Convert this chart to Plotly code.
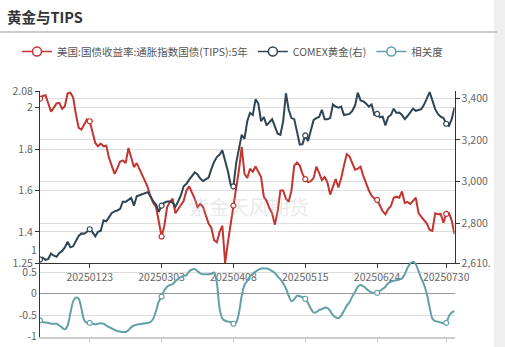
import pandas as pd
import plotly.graph_objects as go

# ---------------- data ----------------
holidays = ['2024-12-25', '2025-01-01', '2025-01-20', '2025-02-17', '2025-04-18',
            '2025-05-26', '2025-06-19', '2025-07-04']
tick_labels = ['20250123', '20250303', '20250408', '20250515', '20250624', '20250730']
mark_dates = ['20241226'] + tick_labels

tips = [2.043, 2.056, 2.06, 2.015, 1.98, 2.0, 2.02, 2.023, 1.994, 2.007,
        2.069, 2.072, 2.048, 1.967, 1.902, 1.894, 1.918, 1.943, 1.934, 1.878,
        1.829, 1.813, 1.826, 1.813, 1.816, 1.756, 1.716, 1.68, 1.708, 1.74,
        1.745, 1.732, 1.805, 1.756, 1.713, 1.732, 1.70, 1.67, 1.645, 1.615,
        1.57, 1.54, 1.52, 1.45, 1.378, 1.43, 1.52, 1.545, 1.56, 1.49,
        1.51, 1.53, 1.55, 1.60, 1.62, 1.59, 1.56, 1.52, 1.535, 1.52,
        1.48, 1.44, 1.42, 1.36, 1.35, 1.40, 1.43, 1.25, 1.35, 1.44,
        1.527, 1.60, 1.70, 1.81, 1.68, 1.66, 1.705, 1.69, 1.716, 1.69,
        1.665, 1.57, 1.55, 1.515, 1.49, 1.435, 1.50, 1.60, 1.60, 1.56,
        1.545, 1.60, 1.72, 1.735, 1.72, 1.68, 1.655, 1.64, 1.645, 1.66,
        1.715, 1.685, 1.65, 1.665, 1.64, 1.58, 1.62, 1.655, 1.615, 1.66,
        1.72, 1.775, 1.765, 1.735, 1.70, 1.705, 1.715, 1.67, 1.635, 1.60,
        1.575, 1.56, 1.555, 1.53, 1.50, 1.485, 1.51, 1.525, 1.565, 1.57,
        1.565, 1.595, 1.54, 1.545, 1.535, 1.55, 1.565, 1.49, 1.475, 1.46,
        1.44, 1.41, 1.405, 1.49, 1.485, 1.487, 1.445, 1.487, 1.49, 1.455,
        1.39]

gold = [2627, 2635, 2625, 2630, 2655, 2645, 2640, 2658, 2668, 2685,
        2712, 2685, 2690, 2715, 2740, 2752, 2750, 2760, 2772, 2758,
        2738, 2760, 2765, 2815, 2810, 2830, 2850, 2858, 2862, 2870,
        2905, 2903, 2912, 2922, 2885, 2930, 2935, 2940, 2945, 2950,
        2930, 2905, 2890, 2855, 2885, 2900, 2905, 2905, 2900, 2880,
        2905, 2935, 2978, 2990, 3010, 3030, 3045, 3035, 3015, 3003,
        3010, 3020, 3060, 3095, 3118, 3130, 3150, 3105, 3050, 2985,
        2978, 3090, 3160, 3225, 3205, 3290, 3330, 3320, 3395, 3375,
        3290, 3310, 3270, 3285, 3300, 3265, 3230, 3225, 3290, 3424,
        3345, 3305, 3300, 3240, 3178, 3180, 3222, 3195, 3250, 3295,
        3305, 3310, 3345, 3300, 3300, 3305, 3370, 3360, 3355, 3360,
        3320, 3322, 3325, 3340, 3365, 3427, 3390, 3385, 3375, 3360,
        3370, 3320, 3325, 3310, 3312, 3270, 3310, 3320, 3350, 3330,
        3332, 3320, 3300, 3315, 3330, 3350, 3340, 3345, 3348, 3370,
        3400, 3430, 3390, 3348, 3325, 3312, 3305, 3278, 3268, 3300,
        3356]

corr = [-0.62, -0.66, -0.67, -0.68, -0.70, -0.70, -0.70, -0.74, -0.79, -0.83,
        -0.74, -0.45, -0.18, -0.09, -0.12, -0.35, -0.62, -0.68, -0.68, -0.70,
        -0.71, -0.70, -0.69, -0.70, -0.74, -0.78, -0.81, -0.84, -0.87, -0.88,
        -0.89, -0.89, -0.85, -0.78, -0.74, -0.72, -0.71, -0.70, -0.69, -0.68,
        -0.66, -0.58, -0.40, -0.18, -0.07, 0.08, 0.16, 0.20, 0.22, 0.29,
        0.34, 0.38, 0.41, 0.43, 0.52, 0.56, 0.57, 0.52, 0.47, 0.45,
        0.45, 0.45, 0.46, 0.49, 0.25, -0.35, -0.58, -0.63, -0.65, -0.66,
        -0.70, -0.67, -0.45, -0.05, 0.20, 0.30, 0.40, 0.46, 0.51, 0.55,
        0.58, 0.58, 0.58, 0.56, 0.52, 0.48, 0.40, 0.33, 0.24, 0.12,
        -0.05, -0.18, -0.13, -0.05, -0.06, -0.08, -0.12, -0.22, -0.35, -0.44,
        -0.43, -0.38, -0.36, -0.33, -0.33, -0.40, -0.50, -0.55, -0.57, -0.51,
        -0.40, -0.28, -0.20, -0.07, 0.04, 0.16, 0.20, 0.17, 0.12, 0.06,
        0.03, 0.01, 0.02, 0.06, 0.11, 0.16, 0.24, 0.28, 0.30, 0.31,
        0.33, 0.35, 0.45, 0.60, 0.70, 0.74, 0.68, 0.52, 0.35, 0.20,
        -0.01, -0.32, -0.58, -0.64, -0.65, -0.67, -0.69, -0.68, -0.52, -0.44,
        -0.40]

names = ['美国:国债收益率:通胀指数国债(TIPS):5年', 'COMEX黄金(右)', '相关度']
colors = ['#c23531', '#2f4554', '#61a0a8']

left_ticks = [1.25, 1.4, 1.6, 1.8, 2, 2.08]
left_text = ['1.25', '1.4', '1.6', '1.8', '2', '2.08']
right_ticks = [2610, 2800, 3000, 3200, 3400]
right_text = ['2,610.', '2,800', '3,000', '3,200', '3,400']
bot_ticks = [-1, -0.5, 0, 0.5, 1]
bot_text = ['-1', '-0.5', '0', '0.5', '1']

# ---------------- categories ----------------
days = pd.bdate_range('2024-12-26', '2025-08-04')
dates = [d.strftime('%Y%m%d') for d in days if d.strftime('%Y-%m-%d') not in holidays]
n = min(len(dates), len(tips), len(gold), len(corr))
dates = dates[:n]
tips, gold, corr = tips[:n], gold[:n], corr[:n]

W, H = 505, 347
def px(x): return x / W
def py(y): return 1 - y / H

FONT = 'Noto Sans CJK SC'
fig = go.Figure()

series = [(tips, 'x', 'y', 'linear'), (gold, 'x', 'y2', 'linear'), (corr, 'x2', 'y3', 'spline')]
for (vals, xa, ya, shape), name, col in zip(series, names, colors):
    fig.add_trace(go.Scatter(x=dates, y=vals, mode='lines', name=name, showlegend=False,
                             line=dict(color=col, width=2, shape=shape, smoothing=0.8),
                             xaxis=xa, yaxis=ya, hoverinfo='skip'))
    mi = [dates.index(d) for d in mark_dates if d in dates]
    fig.add_trace(go.Scatter(x=[dates[i] for i in mi], y=[vals[i] for i in mi], mode='markers',
                             showlegend=False, xaxis=xa, yaxis=ya,
                             marker=dict(symbol='circle', size=5, color='white',
                                         line=dict(color=col, width=1.2))))
# legend entries
for name, col in zip(names, colors):
    fig.add_trace(go.Scatter(x=[None], y=[None], mode='lines+markers', name=name,
                             line=dict(color=col, width=1.5),
                             marker=dict(symbol='circle', size=9, color='white',
                                         line=dict(color=col, width=1.5))))

xdom = [px(40), px(454.5)]
axis_font = dict(family=FONT, size=10.5, color='#666')
grid = '#dddddd'

fig.update_layout(
    width=W, height=H, autosize=False,
    margin=dict(l=0, r=0, t=0, b=0, pad=0),
    paper_bgcolor='white', plot_bgcolor='rgba(0,0,0,0)',
    font=dict(family=FONT, color='#555'),
    showlegend=True,
    legend=dict(orientation='h', x=px(17), y=py(37), xanchor='left', yanchor='top',
                font=dict(family=FONT, size=10.5, color='#555'), itemwidth=30,
                bgcolor='rgba(0,0,0,0)', tracegroupgap=0),
    xaxis=dict(domain=xdom, anchor='y', type='category', categoryorder='array',
               categoryarray=dates, range=[0, n - 1], automargin=False,
               tickmode='array', tickvals=tick_labels, ticktext=tick_labels,
               ticks='outside', ticklen=4, tickcolor='#333',
               showline=True, linecolor='#333', linewidth=1, showgrid=False,
               tickfont=axis_font),
    yaxis=dict(domain=[py(263), py(91)], anchor='x', range=[1.25, 2.08], automargin=False,
               tickmode='array', tickvals=left_ticks, ticktext=left_text,
               ticks='outside', ticklen=4, tickcolor='#333',
               showline=True, linecolor='#333', linewidth=1,
               showgrid=True, gridcolor=grid, zeroline=False, tickfont=axis_font),
    yaxis2=dict(overlaying='y', side='right', anchor='x', range=[2610, 3435], automargin=False,
                tickmode='array', tickvals=right_ticks, ticktext=right_text,
                ticks='outside', ticklen=4, tickcolor='#333',
                showline=True, linecolor='#333', linewidth=1,
                showgrid=True, gridcolor=grid, zeroline=False, tickfont=axis_font),
    xaxis2=dict(domain=xdom, anchor='y3', type='category', categoryorder='array',
                categoryarray=dates, range=[0, n - 1], automargin=False,
                tickmode='array', tickvals=tick_labels, ticktext=tick_labels,
                ticks='outside', ticklen=4, tickcolor='#ccc',
                showline=True, linecolor='#cccccc', linewidth=2, showgrid=False,
                tickfont=axis_font),
    yaxis3=dict(domain=[py(336.7), py(250.5)], anchor='x2', range=[-1, 1], automargin=False,
                tickmode='array', tickvals=bot_ticks, ticktext=bot_text,
                ticks='', showline=True, linecolor='#333', linewidth=1,
                showgrid=True, gridcolor=grid, zeroline=True, zerolinecolor='#999',
                zerolinewidth=1, tickfont=axis_font),
    annotations=[
        dict(text='<b>黄金与TIPS</b>', x=px(5), y=py(17), xref='paper', yref='paper',
             xanchor='left', yanchor='middle', showarrow=False,
             font=dict(family=FONT, size=14.5, color='#333')),
        dict(text='紫金天风期货', x=px(249), y=py(206), xref='paper', yref='paper',
             xanchor='center', yanchor='middle', showarrow=False,
             font=dict(family=FONT, size=20, color='rgba(180,180,180,0.3)')),
    ],
    shapes=[
        dict(type='line', xref='paper', yref='paper', x0=0, x1=px(497), y0=py(32), y1=py(32),
             line=dict(color='#bbbbbb', width=1.5)),
        dict(type='rect', xref='paper', yref='paper', x0=px(494), x1=1, y0=0, y1=1,
             fillcolor='#efefef', line=dict(width=0), layer='below'),
    ],
)

fig.write_html('out.html')
